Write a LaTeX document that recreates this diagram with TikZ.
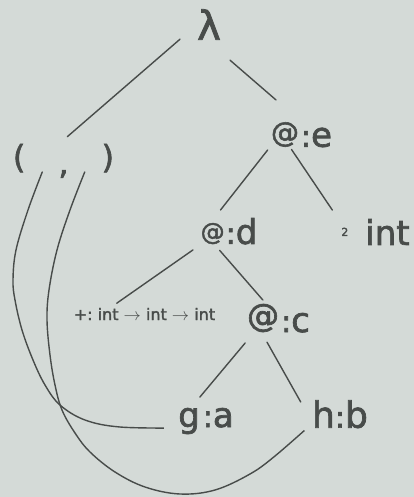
\documentclass[tikz,border=0pt]{standalone}
\usepackage{fontspec}
\setmainfont{DejaVu Sans ExtraLight}[FakeBold=2]
\definecolor{paper}{RGB}{212,218,215}
\definecolor{pencil}{RGB}{72,76,74}
\newcommand\hwat[2]{\raisebox{#2}{\fontsize{#1}{#1}\selectfont\bfseries @}}
\newcommand\hwcolon{{\fontsize{30}{30}\selectfont\bfseries :}}
\begin{document}
\begin{tikzpicture}[x=1pt,y=-1pt,
  lbl/.style={inner sep=0pt, outer sep=0pt, text depth=0pt, text=pencil, font=\fontsize{34}{36}\selectfont\bfseries},
  edge/.style={draw=pencil, line width=1.4pt, line cap=round},
  wire/.style={draw=pencil, line width=1.4pt, line cap=round}]
\fill[paper] (0,0) rectangle (414,497);
\useasboundingbox (0,0) rectangle (414,497);

\node[lbl, minimum width=24pt, minimum height=35pt, font=\fontsize{40}{42}\selectfont\bfseries] (lam) at (209,24.5) {λ};
\node[lbl, minimum width=103pt, minimum height=32pt, font=\fontsize{32}{34}\selectfont\bfseries] (pair) at (63.5,156) {(\hspace{33pt}\raisebox{-6pt}{,}\hspace{33pt})};
\node[lbl, minimum width=63pt, minimum height=25pt] (ate) at (301.5,134.5) {\hwat{28}{4.8pt}\hspace{2pt}\hwcolon e};
\node[lbl, minimum width=58pt, minimum height=28pt] (atd) at (229,231) {\hwat{24}{4pt}\hspace{1pt}\hwcolon d};
\node[lbl, minimum width=77pt, minimum height=30pt] (two) at (375.5,232) {\raisebox{9pt}{\fontsize{11}{11}\selectfont\bfseries 2}\hspace{17pt}int};
\node[lbl, minimum width=145pt, minimum height=12pt, font=\fontsize{16}{18}\selectfont\bfseries] (plus) at (144.5,314) {+:\ int $\rightarrow$ int $\rightarrow$ int};
\node[lbl, minimum width=67pt, minimum height=30pt] (atc) at (278.5,318) {\hwat{32}{5.5pt}\hspace{2pt}\hwcolon c};
\node[lbl, minimum width=58pt, minimum height=21pt] (ga) at (206,417.5) {g\hspace{3pt}\hwcolon a};
\node[lbl, minimum width=56pt, minimum height=36pt, font=\fontsize{36}{38}\selectfont\bfseries] (hb) at (340,414) {h\hwcolon b};

\draw[edge, shorten <=22.5pt, shorten >=5pt] (lam.west) -- (pair.north);
\draw[edge, shorten <=27.8pt, shorten >=33.7pt] (lam.south) -- (ate.north);
\draw[edge, shorten <=3.8pt, shorten >=8.9pt] (ate.south west) -- (atd.135);
\draw[edge, shorten <=3pt, shorten >=8.4pt] (ate.227) -- (two.north west);
\draw[edge, shorten <=8.6pt, shorten >=8.2pt] (atd.south west) -- (plus.170);
\draw[edge, shorten <=7pt, shorten >=4pt] (atd.225) -- (atc.131);
\draw[edge, shorten <=13pt, shorten >=13pt] (atc.211) -- (ga.144);
\draw[edge, shorten <=10.5pt, shorten >=23pt] (atc.222) -- (hb.196);

\draw[wire, shorten >=17pt] plot[smooth, tension=0.6] coordinates {(pair.217) (28,210) (16,250) (13,280) (15,300) (22,330) (33,360) (45,385) (60,405) (85,420) (120,427) (ga.south west)};
\draw[wire, shorten >=13pt] plot[smooth, tension=0.6] coordinates {(pair.323) (70,210) (57,250) (49,290) (47,320) (50,355) (55,385) (62,410) (75,433) (90,452) (115,472) (145,487) (180,494) (215,490) (250,474) (275,456) (hb.199)};
\end{tikzpicture}
\end{document}
